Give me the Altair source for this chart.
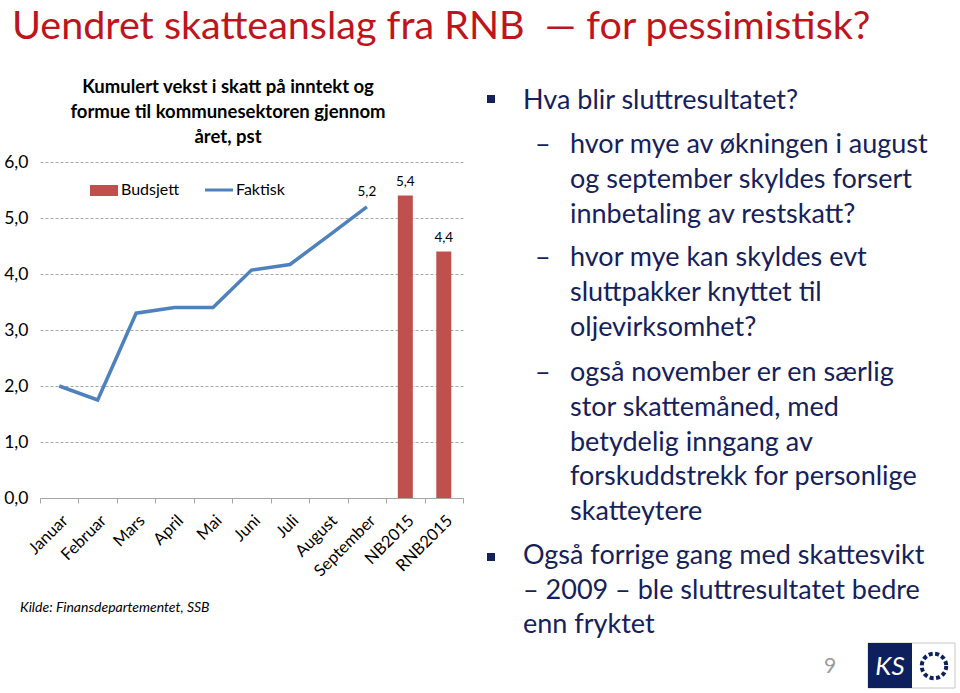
import altair as alt
import pandas as pd

# ---------------- data ----------------
categories = ["Januar", "Februar", "Mars", "April", "Mai", "Juni", "Juli",
              "August", "September", "NB2015", "RNB2015"]
faktisk_cats = ["Januar", "Februar", "Mars", "April", "Mai", "Juni", "Juli",
                "August", "September"]
faktisk_vals = [2.0, 1.75, 3.3, 3.4, 3.4, 4.07, 4.17, 4.68, 5.2]
budsjett_cats = ["NB2015", "RNB2015"]
budsjett_vals = [5.4, 4.4]
y_ticks = [0, 1, 2, 3, 4, 5, 6]

line_df = pd.DataFrame({"kat": faktisk_cats, "verdi": faktisk_vals})
bar_df = pd.DataFrame({"kat": budsjett_cats, "verdi": budsjett_vals})
one = pd.DataFrame({"i": [0]})

# ---------------- layout ----------------
L, T = 40, 162          # plot origin in page pixels
W, H = 423, 336         # plot area
PAGE_W, PAGE_H = 960, 693
FONT = "Lato"
NAVY = "#15215B"
RED_T = "#C0141C"
BAR_C = "#C0504D"
LINE_C = "#4F81BD"

fmt = "replace(format(datum.verdi,'.1f'),'.',',')"

xscale = alt.Scale(domain=categories, paddingInner=0, paddingOuter=0)
yscale = alt.Scale(domain=[0, 6], nice=False)

x_enc = alt.X("kat:N", scale=xscale, sort=categories, axis=alt.Axis(
    title=None, labelAngle=-45, tickBand="extent", domainColor="#A6A6A6",
    tickColor="#A6A6A6", tickSize=5, labelFont=FONT, labelFontSize=16.5,
    labelColor="#000000", grid=False, labelPadding=9))
y_enc = alt.Y("verdi:Q", scale=yscale, axis=alt.Axis(
    title=None, values=y_ticks,
    labelExpr="replace(format(datum.value,'.1f'),'.',',')",
    grid=True, gridDash=[3, 2], gridColor="#A6A6A6", domain=False,
    ticks=False, labelPadding=12, labelFont=FONT, labelFontSize=17.5,
    labelColor="#000000"))

bars = alt.Chart(bar_df).mark_bar(color=BAR_C, size=15).encode(x=x_enc, y=y_enc)
line = alt.Chart(line_df).mark_line(color=LINE_C, strokeWidth=3.5).encode(x=x_enc, y=y_enc)

bar_lbl = alt.Chart(bar_df).transform_calculate(lbl=fmt).mark_text(
    font=FONT, fontSize=13.5, dy=-14, color="#000000").encode(
    x=alt.X("kat:N", scale=xscale), y=alt.Y("verdi:Q", scale=yscale), text="lbl:N")
line_lbl = alt.Chart(line_df).transform_filter(
    alt.datum.kat == "September").transform_calculate(lbl=fmt).mark_text(
    font=FONT, fontSize=13.5, dy=-15, color="#000000").encode(
    x=alt.X("kat:N", scale=xscale), y=alt.Y("verdi:Q", scale=yscale), text="lbl:N")


def txt(s, px, py, size, color="#000000", weight="normal", style="normal",
        align="left", baseline="alphabetic"):
    return alt.Chart(one).mark_text(
        text=s, fontSize=size, color=color, fontWeight=weight, fontStyle=style,
        align=align, baseline=baseline, font=FONT).encode(
        x=alt.value(px - L), y=alt.value(py - T))


def box(x1, y1, x2, y2, fill, stroke=None):
    kw = dict(color=fill)
    if stroke:
        kw.update(stroke=stroke, strokeWidth=1)
    return alt.Chart(one).mark_rect(**kw).encode(
        x=alt.value(x1 - L), x2=alt.value(x2 - L),
        y=alt.value(y1 - T), y2=alt.value(y2 - T))


layers = [bars, line, bar_lbl, line_lbl]

# slide title
NB = "\u00a0"
layers.append(txt("Uendret skatteanslag fra RNB" + NB * 2 + "\u2014" + NB + "for pessimistisk?",
                  12, 39, 39.5, color=RED_T))

# chart title
for s, yy in [("Kumulert vekst i skatt på inntekt og", 93),
              ("formue til kommunesektoren gjennom", 118),
              ("året, pst", 143)]:
    layers.append(txt(s, 228, yy, 18.5, weight="bold", align="center"))

# legend
layers.append(box(90, 185, 118, 196, BAR_C))
layers.append(txt("Budsjett", 121, 190, 16, baseline="middle"))
layers.append(alt.Chart(one).mark_rule(color=LINE_C, strokeWidth=3).encode(
    x=alt.value(205 - L), x2=alt.value(233 - L), y=alt.value(190 - T)))
layers.append(txt("Faktisk", 236, 190, 16, baseline="middle"))

# source
layers.append(txt("Kilde: Finansdepartementet, SSB", 20, 612, 14, style="italic"))

# right-hand bullets
SZ = 27
layers.append(box(487, 95, 495, 103, NAVY))
layers.append(txt("Hva blir sluttresultatet?", 523, 109, SZ, color=NAVY))
sub = [
    (["hvor mye av økningen i august", "og september skyldes forsert",
      "innbetaling av restskatt?"], 153),
    (["hvor mye kan skyldes evt", "sluttpakker knyttet til",
      "oljevirksomhet?"], 266),
    (["også november er en særlig", "stor skattemåned, med",
      "betydelig inngang av", "forskuddstrekk for personlige",
      "skatteytere"], 381),
]
for lines, y0 in sub:
    layers.append(txt("\u2013", 535, y0, SZ, color=NAVY))
    for k, s in enumerate(lines):
        layers.append(txt(s, 570, y0 + 34.8 * k, SZ, color=NAVY))
layers.append(box(487, 553, 495, 561, NAVY))
for k, s in enumerate(["Også forrige gang med skattesvikt",
                       "\u2013 2009 \u2013 ble sluttresultatet bedre",
                       "enn fryktet"]):
    layers.append(txt(s, 523, 564 + 34.5 * k, SZ, color=NAVY))

# page number and logo
layers.append(txt("9", 830, 667, 21, color="#9A9A9A", align="center", baseline="middle"))
layers.append(box(868, 643, 955, 688, "#FFFFFF", stroke="#C8C8C8"))
layers.append(box(868, 643, 912, 688, "#0D1F5C"))
layers.append(txt("KS", 890, 667, 26, color="#FFFFFF", style="italic",
                  align="center", baseline="middle"))
layers.append(alt.Chart(one).mark_point(
    shape="circle", filled=False, size=600, stroke="#0D1F5C", strokeWidth=4,
    strokeDash=[4, 2.5], opacity=1).encode(
    x=alt.value(934 - L), y=alt.value(666 - T)))

chart = alt.layer(*layers).properties(
    width=W, height=H,
    autosize=alt.AutoSizeParams(type="none"),
    padding={"left": L, "top": T, "right": PAGE_W - L - W, "bottom": PAGE_H - T - H},
    background="#FFFFFF",
).configure_view(stroke=None)

chart.save("out.html", embed_options={"renderer": "svg", "actions": False})
